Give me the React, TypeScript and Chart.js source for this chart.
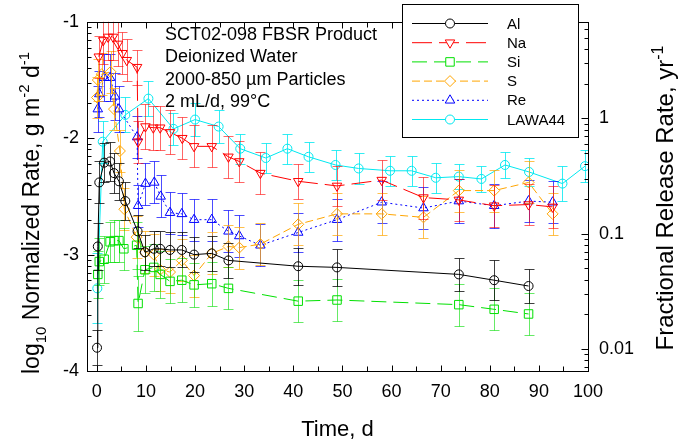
import React, { useEffect, useRef } from 'react';
import { Chart, registerables } from 'chart.js';

Chart.register(...registerables);

const FONT = "'Liberation Sans', Arial, Helvetica, sans-serif";

// ---- axis ticks ----
const X_TICKS = [0, 10, 20, 30, 40, 50, 60, 70, 80, 90, 100];
const Y_TICKS = [-4, -3, -2, -1];
const Y2_TICKS = [0.01, 0.1, 1];

// ---- annotation / labels ----
const NOTE_LINES = ['SCT02-098 FBSR Product', 'Deionized Water', '2000-850 \u00b5m Particles', '2 mL/d, 99\u00b0C'];
const SERIES_NAMES = ['Al', 'Na', 'Si', 'S', 'Re', 'LAWA44'];

// ---- data: time (d), log10 rate, +/- error (log units) ----
const AL_T = [0.04, 0.2, 0.5, 1.5, 2.7, 3.5, 4.5, 5.8, 8.3, 9.8, 11.6, 12.9, 14.9, 17.3, 19.8, 23.4, 26.8, 41.0, 48.9, 73.7, 80.9, 87.9];
const AL_V = [-3.80, -2.93, -2.38, -2.21, -2.20, -2.30, -2.37, -2.54, -2.80, -2.98, -2.95, -2.95, -2.96, -2.96, -3.00, -2.99, -3.05, -3.10, -3.11, -3.17, -3.22, -3.27];
const AL_E = [0.15, 0.20, 0.18, 0.17, 0.17, 0.17, 0.16, 0.16, 0.14, 0.15, 0.15, 0.15, 0.15, 0.15, 0.15, 0.15, 0.15, 0.16, 0.16, 0.14, 0.17, 0.15];

const NA_T = [0.4, 1.3, 2.3, 3.3, 4.3, 5.2, 6.1, 8.2, 8.4, 9.9, 11.5, 12.9, 14.9, 17.4, 19.8, 23.4, 26.8, 29.0, 33.3, 41.0, 48.9, 58.0, 66.5, 73.7, 80.9, 87.9, 92.8];
const NA_V = [-1.30, -1.16, -1.13, -1.13, -1.19, -1.27, -1.33, -1.39, -2.03, -1.90, -1.91, -1.91, -1.95, -2.00, -2.07, -2.07, -2.16, -2.20, -2.30, -2.37, -2.41, -2.36, -2.51, -2.53, -2.58, -2.57, -2.59];
const NA_E = [0.18, 0.20, 0.20, 0.20, 0.19, 0.18, 0.18, 0.15, 0.18, 0.19, 0.19, 0.19, 0.19, 0.18, 0.18, 0.18, 0.18, 0.18, 0.18, 0.15, 0.17, 0.17, 0.18, 0.18, 0.18, 0.18, 0.18];

const SI_T = [0.2, 0.5, 1.5, 2.7, 3.5, 4.5, 5.5, 8.1, 8.4, 9.8, 11.6, 12.9, 14.9, 17.3, 19.8, 23.4, 26.8, 41.0, 48.9, 73.7, 80.9, 87.9];
const SI_V = [-3.17, -3.06, -3.04, -2.89, -2.88, -2.88, -2.95, -2.92, -3.42, -3.13, -3.11, -3.17, -3.23, -3.22, -3.26, -3.25, -3.29, -3.40, -3.39, -3.43, -3.47, -3.51];
const SI_E = [0.20, 0.20, 0.20, 0.17, 0.18, 0.18, 0.18, 0.20, 0.24, 0.20, 0.20, 0.20, 0.19, 0.19, 0.19, 0.19, 0.18, 0.18, 0.18, 0.18, 0.18, 0.18];

const S_T = [0.04, 0.2, 1.0, 2.8, 3.5, 4.7, 5.6, 8.1, 9.8, 11.6, 12.9, 14.9, 17.3, 19.8, 23.4, 26.8, 29.0, 33.3, 41.0, 48.9, 58.0, 66.5, 73.7, 80.9, 87.9, 92.8];
const S_V = [-1.65, -1.50, -1.45, -1.43, -1.75, -2.11, -2.61, -2.85, -2.98, -3.00, -3.13, -3.15, -3.05, -3.18, -2.99, -2.93, -2.94, -2.91, -2.74, -2.65, -2.65, -2.68, -2.45, -2.45, -2.38, -2.65];
const S_E = [0.18, 0.18, 0.18, 0.18, 0.18, 0.18, 0.18, 0.18, 0.18, 0.18, 0.18, 0.18, 0.18, 0.18, 0.18, 0.18, 0.18, 0.18, 0.18, 0.18, 0.18, 0.18, 0.18, 0.18, 0.18, 0.18];

const RE_T = [0.2, 0.5, 1.5, 2.7, 3.7, 4.5, 8.2, 8.4, 9.9, 11.7, 13.0, 14.9, 17.3, 19.8, 23.4, 26.8, 29.0, 33.3, 41.0, 48.9, 58.0, 66.5, 73.7, 80.9, 87.9, 92.8];
const RE_V = [-1.75, -1.62, -1.48, -1.48, -1.64, -1.75, -1.99, -2.58, -2.39, -2.38, -2.50, -2.64, -2.65, -2.70, -2.70, -2.80, -2.84, -2.92, -2.81, -2.70, -2.55, -2.60, -2.54, -2.58, -2.54, -2.55];
const RE_E = [0.20, 0.20, 0.20, 0.20, 0.20, 0.20, 0.18, 0.18, 0.18, 0.18, 0.18, 0.18, 0.18, 0.18, 0.18, 0.18, 0.18, 0.18, 0.17, 0.18, 0.18, 0.18, 0.19, 0.19, 0.18, 0.18];

const LA_T = [0.1, 1.2, 5.8, 10.5, 15.6, 20.0, 24.8, 29.2, 34.4, 38.8, 43.1, 48.6, 53.3, 59.7, 64.1, 69.0, 73.7, 78.3, 83.1, 88.0, 94.8, 99.4];
const LA_V = [-3.29, -2.03, -1.80, -1.66, -1.92, -1.84, -1.90, -2.09, -2.17, -2.09, -2.16, -2.23, -2.26, -2.28, -2.28, -2.34, -2.33, -2.35, -2.23, -2.29, -2.39, -2.24];
const LA_E = [0.30, 0.18, 0.15, 0.15, 0.14, 0.14, 0.14, 0.13, 0.13, 0.13, 0.13, 0.13, 0.13, 0.13, 0.13, 0.13, 0.11, 0.11, 0.11, 0.12, 0.15, 0.14];

const TIMES = [AL_T, NA_T, SI_T, S_T, RE_T, LA_T];
const VALUES = [AL_V, NA_V, SI_V, S_V, RE_V, LA_V];
const ERRORS = [AL_E, NA_E, SI_E, S_E, RE_E, LA_E];

// ---- styles ----
const COLORS = ['#000000', '#ff0000', '#00e000', '#ffa500', '#0000ff', '#00e8f0'];
const ERR_COLORS = ['rgba(0,0,0,0.75)', 'rgba(255,0,0,0.6)', 'rgba(0,220,0,0.6)', 'rgba(255,165,0,0.7)', 'rgba(0,0,255,0.7)', 'rgba(0,232,240,0.8)'];
const DASHES: number[][] = [[], [20, 7], [15, 7], [8, 4], [2, 3], []];
const SHAPES = ['circle', 'triangle', 'rect', 'rectRot', 'triangle', 'circle'];
const ROTATIONS = [0, 180, 0, 0, 0, 0];
const RADII = [4.5, 5.5, 6, 5.5, 5.5, 4.5];

const PLOT = { left: 87, right: 588, top: 20, bottom: 371 };

function drawMarker(ctx: CanvasRenderingContext2D, shape: string, rot: number, x: number, y: number, r: number) {
  ctx.beginPath();
  if (shape === 'circle') {
    ctx.arc(x, y, r, 0, Math.PI * 2);
  } else if (shape === 'triangle') {
    let a = (rot * Math.PI) / 180;
    for (let k = 0; k < 3; k++) {
      const px = x + Math.sin(a) * r;
      const py = y - Math.cos(a) * r;
      if (k === 0) ctx.moveTo(px, py); else ctx.lineTo(px, py);
      a += (2 * Math.PI) / 3;
    }
    ctx.closePath();
  } else if (shape === 'rect') {
    const s = r * Math.SQRT1_2;
    ctx.rect(x - s, y - s, 2 * s, 2 * s);
  } else {
    ctx.moveTo(x, y - r); ctx.lineTo(x + r, y); ctx.lineTo(x, y + r); ctx.lineTo(x - r, y); ctx.closePath();
  }
  ctx.fill();
  ctx.stroke();
}

type Part = { t: string; k?: 'sub' | 'sup' };

function drawRich(ctx: CanvasRenderingContext2D, parts: Part[], x: number, y: number, rotate: boolean, size: number) {
  ctx.save();
  ctx.translate(x, y);
  if (rotate) ctx.rotate(-Math.PI / 2);
  ctx.fillStyle = '#000';
  ctx.textBaseline = 'alphabetic';
  ctx.textAlign = 'left';
  const small = Math.round(size * 0.66);
  const widths = parts.map((p) => {
    ctx.font = `${p.k ? small : size}px ${FONT}`;
    return ctx.measureText(p.t).width;
  });
  const total = widths.reduce((a, b) => a + b, 0);
  let cx = -total / 2;
  parts.forEach((p, i) => {
    ctx.font = `${p.k ? small : size}px ${FONT}`;
    const dy = p.k === 'sub' ? size * 0.3 : p.k === 'sup' ? -size * 0.42 : 0;
    ctx.fillText(p.t, cx, dy);
    cx += widths[i];
  });
  ctx.restore();
}

const errorBarPlugin = {
  id: 'errorBars',
  beforeDatasetDraw(chart: any, args: any) {
    const i = args.index;
    const meta = args.meta;
    const errs = ERRORS[i];
    const vals = VALUES[i];
    const ys = chart.scales.y;
    const area = chart.chartArea;
    const ctx: CanvasRenderingContext2D = chart.ctx;
    ctx.save();
    ctx.beginPath();
    ctx.rect(area.left, area.top, area.right - area.left, area.bottom - area.top);
    ctx.clip();
    ctx.strokeStyle = ERR_COLORS[i];
    ctx.lineWidth = 1;
    ctx.setLineDash([]);
    meta.data.forEach((pt: any, j: number) => {
      const x = Math.round(pt.x) + 0.5;
      const yt = Math.round(ys.getPixelForValue(vals[j] + errs[j])) + 0.5;
      const yb = Math.round(ys.getPixelForValue(vals[j] - errs[j])) + 0.5;
      ctx.beginPath();
      ctx.moveTo(x, yt); ctx.lineTo(x, yb);
      ctx.moveTo(x - 5, yt); ctx.lineTo(x + 5, yt);
      ctx.moveTo(x - 5, yb); ctx.lineTo(x + 5, yb);
      ctx.stroke();
    });
    ctx.restore();
  },
};

const framePlugin = {
  id: 'frameTicks',
  afterDraw(chart: any) {
    const ctx: CanvasRenderingContext2D = chart.ctx;
    const a = chart.chartArea;
    const xs = chart.scales.x;
    const ys = chart.scales.y;
    const y2 = chart.scales.y2;
    const L = Math.round(a.left) + 0.5, R = Math.round(a.right) + 0.5;
    const T = Math.round(a.top) + 0.5, B = Math.round(a.bottom) + 0.5;
    ctx.save();
    ctx.strokeStyle = '#000';
    ctx.lineWidth = 1;
    ctx.setLineDash([]);
    ctx.strokeRect(L, T, R - L, B - T);
    ctx.beginPath();
    // x ticks (bottom & top), every 5 days
    for (let t = 0; t <= 100; t += 5) {
      const px = Math.round(xs.getPixelForValue(t)) + 0.5;
      const len = t % 10 === 0 ? 6 : 5;
      ctx.moveTo(px, B); ctx.lineTo(px, B - len);
      ctx.moveTo(px, T); ctx.lineTo(px, T + len);
    }
    // left log10 ticks
    for (let n = -4; n <= -1; n++) {
      const py = Math.round(ys.getPixelForValue(n)) + 0.5;
      ctx.moveTo(L, py); ctx.lineTo(L + 7, py);
      if (n < -1) {
        for (let k = 2; k <= 9; k++) {
          const q = Math.round(ys.getPixelForValue(n + Math.log10(k))) + 0.5;
          ctx.moveTo(L, q); ctx.lineTo(L + 4, q);
        }
      }
    }
    // right logarithmic ticks
    for (let m = -3; m <= 0; m++) {
      for (let k = 1; k <= 9; k++) {
        const v = k * Math.pow(10, m);
        if (v < y2.min || v > y2.max) continue;
        const py = Math.round(y2.getPixelForValue(v)) + 0.5;
        const len = k === 1 ? 7 : 4;
        ctx.moveTo(R, py); ctx.lineTo(R - len, py);
      }
    }
    ctx.stroke();

    // annotation text
    ctx.fillStyle = '#000';
    ctx.font = `18px ${FONT}`;
    ctx.textAlign = 'left';
    ctx.textBaseline = 'alphabetic';
    NOTE_LINES.forEach((s, i) => ctx.fillText(s, 165, 40 + i * 22.3));

    // axis titles
    drawRich(ctx, [{ t: 'Time, d' }], (a.left + a.right) / 2, 436, false, 22);
    drawRich(
      ctx,
      [
        { t: 'log' }, { t: '10', k: 'sub' }, { t: ' Normalized Rate, g m' }, { t: '-2', k: 'sup' },
        { t: ' d' }, { t: '-1', k: 'sup' },
      ],
      39, 213, true, 23,
    );
    drawRich(ctx, [{ t: 'Fractional Release Rate, yr' }, { t: '-1', k: 'sup' }], 673, 198, true, 24);

    // legend
    const lx = 402.5, ly = 4.5, lw = 176, lh = 133;
    ctx.fillStyle = '#fff';
    ctx.fillRect(lx, ly, lw, lh);
    ctx.strokeStyle = '#000';
    ctx.strokeRect(lx, ly, lw, lh);
    SERIES_NAMES.forEach((name, i) => {
      const yy = 23.5 + i * 19.2;
      ctx.strokeStyle = COLORS[i];
      ctx.lineWidth = 1;
      ctx.setLineDash(DASHES[i]);
      ctx.beginPath();
      ctx.moveTo(412, yy); ctx.lineTo(488, yy);
      ctx.stroke();
      ctx.setLineDash([]);
      ctx.fillStyle = '#fff';
      drawMarker(ctx, SHAPES[i], ROTATIONS[i], 450, yy, RADII[i]);
      ctx.fillStyle = '#000';
      ctx.font = `15px ${FONT}`;
      ctx.textBaseline = 'middle';
      ctx.fillText(name, 507, yy + 1);
    });
    ctx.restore();
  },
};

export default function App() {
  const ref = useRef<HTMLCanvasElement | null>(null);

  useEffect(() => {
    if (!ref.current) return;
    const datasets = SERIES_NAMES.map((name, i) => ({
      label: name,
      data: TIMES[i].map((t, j) => ({ x: t, y: VALUES[i][j] })),
      showLine: true,
      borderColor: COLORS[i],
      backgroundColor: 'rgba(0,0,0,0)',
      borderWidth: 1,
      borderDash: DASHES[i],
      pointStyle: SHAPES[i],
      pointRotation: ROTATIONS[i],
      pointRadius: RADII[i],
      pointBorderColor: COLORS[i],
      pointBackgroundColor: 'rgba(0,0,0,0)',
      pointBorderWidth: 1,
      tension: 0,
      yAxisID: 'y',
    }));

    const tickFont = { family: FONT, size: 18 };

    const chart = new Chart(ref.current, {
      type: 'scatter',
      data: { datasets },
      options: {
        animation: false,
        responsive: false,
        devicePixelRatio: 1,
        layout: { padding: { top: PLOT.top, left: 0, right: 0, bottom: 0 } },
        plugins: { legend: { display: false }, tooltip: { enabled: false }, title: { display: false } },
        scales: {
          x: {
            type: 'linear',
            position: 'bottom',
            min: -2,
            max: 100,
            grid: { display: false, drawTicks: false, tickLength: 0 },
            border: { display: false },
            afterBuildTicks: (s: any) => { s.ticks = X_TICKS.map((v) => ({ value: v })); },
            afterFit: (s: any) => { s.height = 442 - PLOT.bottom; },
            ticks: { font: tickFont, color: '#000', padding: 10, maxRotation: 0, autoSkip: false },
          },
          y: {
            type: 'linear',
            position: 'left',
            min: -4,
            max: -1,
            grid: { display: false, drawTicks: false, tickLength: 0 },
            border: { display: false },
            afterBuildTicks: (s: any) => { s.ticks = Y_TICKS.map((v) => ({ value: v })); },
            afterFit: (s: any) => { s.width = PLOT.left; },
            ticks: { font: tickFont, color: '#000', padding: 8, autoSkip: false },
          },
          y2: {
            type: 'logarithmic',
            position: 'right',
            min: 0.00645,
            max: 6.9,
            grid: { display: false, drawTicks: false, tickLength: 0 },
            border: { display: false },
            afterBuildTicks: (s: any) => { s.ticks = Y2_TICKS.map((v) => ({ value: v })); },
            afterFit: (s: any) => { s.width = 682 - PLOT.right; },
            ticks: { font: tickFont, color: '#000', padding: 11, autoSkip: false, callback: (v: any) => String(v) },
          },
        },
      },
      plugins: [errorBarPlugin, framePlugin],
    } as any);

    return () => chart.destroy();
  }, []);

  return (
    <div style={{ position: 'absolute', left: 0, top: 0, width: 682, height: 442, background: '#fff' }}>
      <canvas ref={ref} width={682} height={442} style={{ display: 'block', width: 682, height: 442 }} />
    </div>
  );
}
